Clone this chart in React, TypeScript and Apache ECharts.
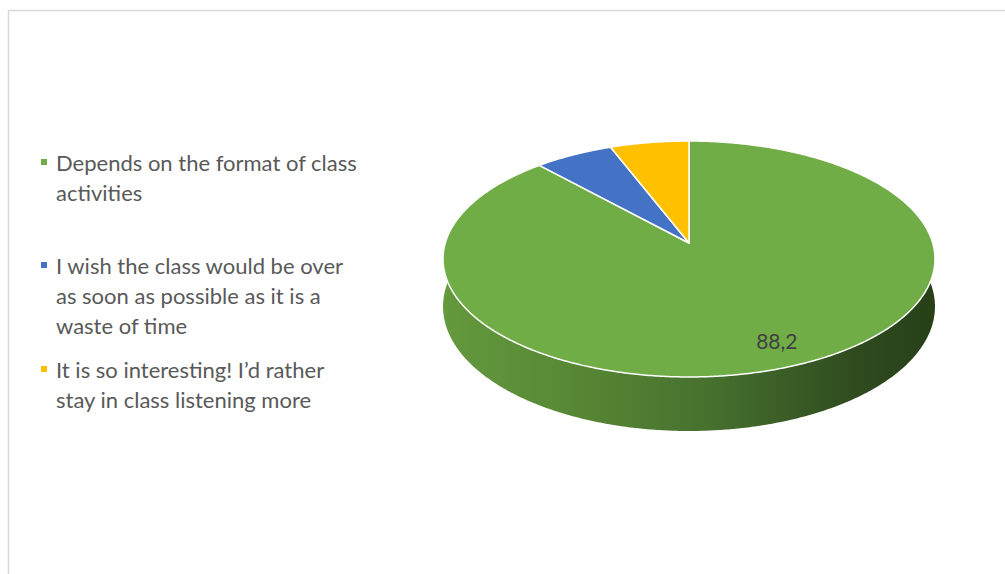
import React, { useEffect, useRef } from "react";
import * as echarts from "echarts";

// ---- data ----
const categories = [
  "Depends on the format of class activities",
  "I wish the class would be over as soon as possible as it is a waste of time",
  "It is so interesting! I’d rather stay in class listening more",
];
const legendLines = [
  ["Depends on the format of class", "activities"],
  ["I wish the class would be over", "as soon as possible as it is a", "waste of time"],
  ["It is so interesting! I’d rather", "stay in class listening more"],
];
const values = [88.2, 5.9, 5.9];
const showLabel = [true, false, false];

// ---- styles / layout ----
const sliceColors = ["#70AD47", "#4472C4", "#FFC000"];
const CX = 689;
const CY = 243;
const RX = 243.7;
const KY = 115.8;
const PERSP = 0.1356;
const DEPTH = 46.7;
const LINE_H = 30;
const legendIconY = [162, 265, 369];
const FONT = "Lato";

const DEG = Math.PI / 180;
function project(theta: number, f: number, down: number): number[] {
  const x3 = f * Math.sin(theta * DEG);
  const z = f * Math.cos(theta * DEG);
  const s = 1 / (1 + PERSP * z);
  return [CX + RX * x3 * s, CY - KY * z * s + DEPTH * s * down];
}

function arcPoints(a0: number, a1: number, down: number): number[][] {
  const pts: number[][] = [];
  const n = Math.max(2, Math.ceil((a1 - a0) / 0.5));
  for (let j = 0; j <= n; j++) {
    pts.push(project(a0 + ((a1 - a0) * j) / n, 1, down));
  }
  return pts;
}

const total = values.reduce((a, b) => a + b, 0);

function makeRender(i: number) {
  return (_params: any, api: any) => {
    const v = api.value(0) as number;
    const start = (values.slice(0, i).reduce((a, b) => a + b, 0) / total) * 360;
    const end = start + (v / total) * 360;
    const children: any[] = [];
    const s0 = Math.max(start, 85);
    const s1 = Math.min(end, 275);
    if (s1 > s0) {
      const topPts = arcPoints(s0, s1, 0);
      const botPts = arcPoints(s0, s1, 1).reverse();
      children.push({
        type: "polygon",
        shape: { points: topPts.concat(botPts) },
        style: {
          fill: {
            type: "linear",
            x: CX - RX * 1.01,
            y: 0,
            x2: CX + RX * 1.01,
            y2: 0,
            global: true,
            colorStops: [
              { offset: 0, color: "#64993d" },
              { offset: 0.3, color: "#558534" },
              { offset: 0.55, color: "#46702e" },
              { offset: 0.72, color: "#385a25" },
              { offset: 0.85, color: "#2e4a1e" },
              { offset: 1, color: "#283f18" },
            ],
          },
        },
        z2: 1,
      });
    }
    const top = [[CX, CY]].concat(arcPoints(start, end, 0));
    children.push({
      type: "polygon",
      shape: { points: top },
      style: { fill: sliceColors[i], stroke: "#ffffff", lineWidth: 1.5, lineJoin: "round" },
      z2: 2,
    });
    if (showLabel[i]) {
      const mid = (start + end) / 2 - 2;
      const p = project(mid, 0.82, 0);
      children.push({
        type: "text",
        x: p[0],
        y: p[1],
        style: {
          text: String(v).replace(".", ","),
          fill: "#404040",
          font: `21px ${FONT}`,
          align: "center",
          verticalAlign: "middle",
        },
        z2: 3,
      });
    }
    return { type: "group", children };
  };
}

export default function App() {
  const ref = useRef<HTMLDivElement>(null);
  useEffect(() => {
    if (!ref.current) return;
    const chart = echarts.init(ref.current, undefined, { renderer: "svg" });
    chart.setOption({
      animation: false,
      backgroundColor: "#ffffff",
      graphic: [
        {
          type: "rect",
          shape: { x: 8.5, y: 10.5, width: 1200, height: 800 },
          style: { fill: "none", stroke: "#d9d9d9", lineWidth: 1.5 },
          silent: true,
        },
      ],
      legend: categories.map((name, i) => {
        const n = legendLines[i].length;
        return {
          data: [{ name, icon: "rect" }],
          orient: "vertical",
          left: 41,
          top: legendIconY[i] - (2 * n - 1) * (LINE_H / 2),
          padding: 0,
          itemWidth: 6,
          itemHeight: 6,
          itemGap: 0,
          selectedMode: false,
          formatter: () => "\n".repeat(n - 1) + legendLines[i].join("\n"),
          textStyle: {
            color: "#595959",
            fontFamily: FONT,
            fontSize: 22,
            lineHeight: LINE_H,
            padding: [0, 0, 0, 4],
          },
        };
      }),
      series: categories.map((name, i) => ({
        type: "custom",
        name,
        coordinateSystem: "none",
        itemStyle: { color: sliceColors[i] },
        data: [[values[i]]],
        renderItem: makeRender(i),
      })),
    });
    return () => chart.dispose();
  }, []);
  return (
    <div
      ref={ref}
      style={{ position: "absolute", left: 0, top: 0, width: 1005, height: 574 }}
    />
  );
}
